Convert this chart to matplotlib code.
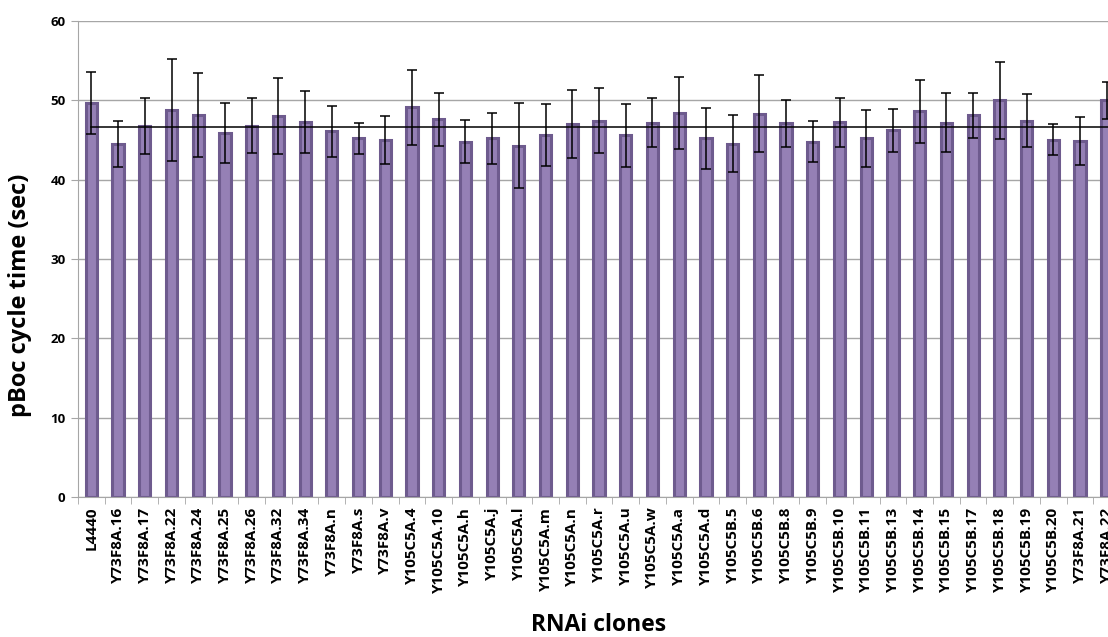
import numpy as np
import matplotlib
matplotlib.use('Agg')
import matplotlib.pyplot as plt

# RNAi clones and mean pBoc cycle times (sec) with error bars
clones = ['L4440', 'Y73F8A.16', 'Y73F8A.17', 'Y73F8A.22', 'Y73F8A.24', 'Y73F8A.25',
          'Y73F8A.26', 'Y73F8A.32', 'Y73F8A.34', 'Y73F8A.n', 'Y73F8A.s', 'Y73F8A.v',
          'Y105C5A.4', 'Y105C5A.10', 'Y105C5A.h', 'Y105C5A.j', 'Y105C5A.l', 'Y105C5A.m',
          'Y105C5A.n', 'Y105C5A.r', 'Y105C5A.u', 'Y105C5A.w', 'Y105C5A.a', 'Y105C5A.d',
          'Y105C5B.5', 'Y105C5B.6', 'Y105C5B.8', 'Y105C5B.9', 'Y105C5B.10', 'Y105C5B.11',
          'Y105C5B.13', 'Y105C5B.14', 'Y105C5B.15', 'Y105C5B.17', 'Y105C5B.18', 'Y105C5B.19',
          'Y105C5B.20', 'Y73F8A.21', 'Y73F8A.22']
cycle_time = [49.65, 44.5, 46.8, 48.8, 48.1, 45.9, 46.8, 48.0, 47.3, 46.1, 45.2, 45.0,
              49.1, 47.6, 44.8, 45.2, 44.3, 45.6, 47.0, 47.45, 45.6, 47.2, 48.4, 45.2,
              44.55, 48.3, 47.1, 44.8, 47.25, 45.2, 46.2, 48.6, 47.2, 48.1, 50.0, 47.45,
              45.05, 44.9, 50.0]
error = [3.9, 2.85, 3.55, 6.4, 5.3, 3.8, 3.5, 4.8, 3.9, 3.2, 2.0, 3.05,
         4.7, 3.35, 2.7, 3.2, 5.35, 3.9, 4.25, 4.05, 4.0, 3.1, 4.5, 3.8,
         3.55, 4.85, 3.0, 2.55, 3.1, 3.6, 2.7, 3.95, 3.75, 2.85, 4.85, 3.35,
         1.95, 3.05, 2.3]
mean_time = 46.65

x = np.arange(len(clones))

fig = plt.figure(figsize=(11.08, 6.37), dpi=100)
ax = fig.add_axes([0.0704, 0.2198, 0.9405, 0.7472])

ax.bar(x, cycle_time, width=0.42, color='#9580b5', edgecolor='#6e5b8e',
       linewidth=2.2, zorder=2)
ax.plot([x[0], x[-1] + 0.5], [mean_time, mean_time], color='black', linewidth=1.1, zorder=3)
ax.errorbar(x, cycle_time, yerr=error, fmt='none', ecolor='black',
            elinewidth=1.1, capsize=3.6, capthick=1.1, zorder=4)

ax.set_xlim(-0.5, len(clones) - 0.5)
ax.set_ylim(0, 60)
ax.set_yticks(np.arange(0, 61, 10))
ax.grid(axis='y', color='#a6a6a6', linewidth=1.0, zorder=0)
ax.set_axisbelow(True)

ax.set_xticks(x)
ax.set_xticklabels(clones, rotation=90, fontsize=11, fontweight='bold', family='Open Sans')
ax.set_xticks(np.arange(-0.5, len(clones), 1), minor=True)
ax.tick_params(axis='x', which='major', length=0, pad=7)
ax.tick_params(axis='x', which='minor', length=5, color='#a6a6a6', direction='out')
ax.tick_params(axis='y', length=5, color='#a6a6a6', labelsize=9.5, pad=4)
for lab in ax.get_yticklabels():
    lab.set_fontweight('bold')
    lab.set_family('Open Sans')

for side in ['top', 'right']:
    ax.spines[side].set_visible(False)
ax.spines['left'].set_color('#a6a6a6')
ax.spines['bottom'].set_color('#a6a6a6')

fig.text(0.018, 0.537, 'pBoc cycle time (sec)', rotation=90, ha='center', va='center',
         fontsize=17, fontweight='bold', family='Open Sans')
fig.text(0.540, 0.019, 'RNAi clones', ha='center', va='center', fontsize=16.5,
         fontweight='bold', family='Open Sans')

fig.savefig('out.png', dpi=100)
